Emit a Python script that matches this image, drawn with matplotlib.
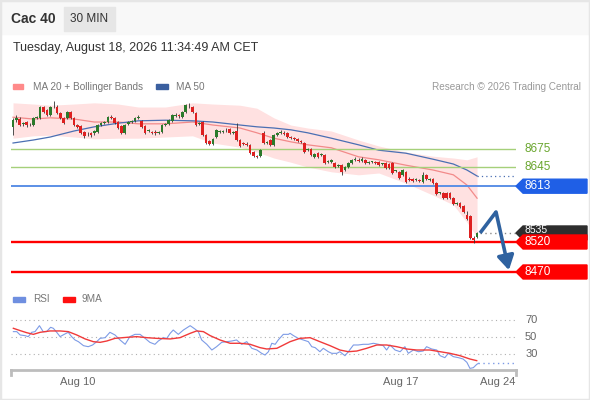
import matplotlib.pyplot as plt
from matplotlib.patches import Rectangle, Polygon
import numpy as np

plt.rcParams['font.family'] = ['Liberation Sans', 'DejaVu Sans']

# ---- price data (30 min candles) ----
opens = [8712, 8723, 8725, 8716, 8720, 8716, 8715, 8727, 8727, 8745, 8740, 8732, 8746, 8745, 8735, 8727,
         8727, 8737, 8727, 8715, 8713, 8703, 8701, 8702, 8702, 8703, 8715, 8718, 8720, 8728, 8727, 8720,
         8713, 8702, 8717, 8720, 8722, 8727, 8722, 8713, 8705, 8703, 8704, 8702, 8703, 8715, 8717, 8722,
         8730, 8732, 8728, 8737, 8747, 8745, 8735, 8717, 8720, 8698, 8688, 8683, 8695, 8703, 8703, 8706,
         8708, 8702, 8705, 8690, 8685, 8683, 8682, 8670, 8663, 8663, 8702, 8685, 8690, 8682, 8698, 8702,
         8702, 8702, 8695, 8693, 8692, 8688, 8685, 8673, 8675, 8662, 8668, 8665, 8665, 8653, 8653, 8652,
         8647, 8648, 8640, 8645, 8652, 8657, 8657, 8655, 8657, 8652, 8653, 8653, 8653, 8650, 8652, 8650,
         8652, 8638, 8637, 8632, 8637, 8625, 8625, 8623, 8623, 8620, 8632, 8623, 8625, 8618, 8602, 8602,
         8602, 8602, 8593, 8583, 8585, 8580, 8565, 8563, 8527, 8528]
highs = [8727, 8732, 8728, 8720, 8722, 8719, 8729, 8730, 8747, 8747, 8742, 8747, 8755, 8748, 8737, 8729,
         8739, 8739, 8729, 8717, 8715, 8705, 8704, 8704, 8707, 8717, 8720, 8721, 8730, 8731, 8729, 8722,
         8715, 8717, 8722, 8724, 8729, 8731, 8724, 8715, 8709, 8705, 8706, 8705, 8717, 8719, 8725, 8734,
         8735, 8734, 8739, 8750, 8752, 8747, 8737, 8720, 8722, 8700, 8690, 8694, 8709, 8706, 8706, 8710,
         8710, 8705, 8718, 8692, 8687, 8686, 8684, 8672, 8665, 8675, 8705, 8688, 8692, 8700, 8704, 8706,
         8705, 8704, 8697, 8695, 8694, 8690, 8687, 8677, 8677, 8669, 8670, 8669, 8667, 8656, 8659, 8654,
         8650, 8650, 8647, 8654, 8659, 8661, 8660, 8662, 8659, 8655, 8655, 8655, 8655, 8652, 8654, 8652,
         8654, 8640, 8639, 8642, 8639, 8628, 8627, 8626, 8625, 8637, 8634, 8626, 8627, 8620, 8604, 8604,
         8604, 8604, 8595, 8586, 8587, 8582, 8572, 8565, 8530, 8537]
lows = [8698, 8720, 8713, 8713, 8712, 8713, 8713, 8725, 8725, 8735, 8730, 8730, 8743, 8733, 8725, 8716,
        8725, 8725, 8713, 8710, 8700, 8693, 8697, 8695, 8698, 8701, 8713, 8716, 8718, 8725, 8716, 8708,
        8700, 8700, 8715, 8718, 8720, 8725, 8710, 8700, 8703, 8700, 8699, 8700, 8701, 8713, 8715, 8720,
        8728, 8727, 8726, 8735, 8744, 8735, 8713, 8715, 8696, 8683, 8681, 8681, 8693, 8701, 8701, 8704,
        8700, 8700, 8688, 8678, 8681, 8680, 8666, 8661, 8660, 8661, 8683, 8683, 8680, 8680, 8696, 8700,
        8698, 8693, 8691, 8690, 8686, 8685, 8668, 8671, 8663, 8660, 8660, 8663, 8650, 8651, 8651, 8643,
        8645, 8632, 8638, 8643, 8650, 8655, 8653, 8653, 8650, 8650, 8651, 8650, 8646, 8648, 8641, 8641,
        8633, 8636, 8625, 8630, 8618, 8622, 8620, 8621, 8620, 8618, 8623, 8621, 8616, 8598, 8600, 8591,
        8591, 8591, 8581, 8581, 8576, 8568, 8556, 8525, 8518, 8526]
closes = [8723, 8727, 8715, 8718, 8715, 8717, 8727, 8728, 8745, 8737, 8732, 8745, 8747, 8735, 8727, 8718,
          8737, 8727, 8715, 8712, 8702, 8697, 8702, 8698, 8705, 8715, 8718, 8719, 8728, 8727, 8718, 8710,
          8702, 8715, 8720, 8722, 8727, 8728, 8712, 8702, 8707, 8702, 8701, 8703, 8715, 8717, 8723, 8732,
          8732, 8730, 8737, 8748, 8746, 8737, 8715, 8718, 8698, 8685, 8683, 8692, 8707, 8703, 8704, 8707,
          8702, 8703, 8690, 8680, 8683, 8682, 8668, 8663, 8662, 8673, 8685, 8685, 8682, 8698, 8702, 8702,
          8700, 8695, 8693, 8692, 8688, 8687, 8670, 8675, 8665, 8667, 8662, 8667, 8652, 8653, 8657, 8645,
          8648, 8637, 8645, 8652, 8657, 8657, 8655, 8658, 8652, 8653, 8653, 8652, 8648, 8650, 8643, 8643,
          8635, 8638, 8627, 8640, 8620, 8623, 8622, 8623, 8622, 8632, 8625, 8623, 8618, 8600, 8602, 8593,
          8593, 8593, 8583, 8583, 8578, 8570, 8558, 8527, 8523, 8535]

# moving averages and bands, read at a few bar positions
line_x = [0, 6, 11, 18, 24, 31, 37, 45, 53, 59, 67, 72, 77, 82, 87, 94, 102, 108, 116, 124, 130, 134, 137]
ma20 = [8728, 8725, 8727, 8725, 8720, 8720, 8717, 8717, 8720, 8715, 8710, 8702, 8693, 8687, 8682, 8677,
        8662, 8657, 8648, 8640, 8632, 8615, 8593]
bb_upper = [8752, 8750, 8748, 8750, 8752, 8750, 8745, 8745, 8752, 8750, 8748, 8743, 8727, 8715, 8710, 8705,
            8690, 8680, 8670, 8663, 8660, 8657, 8662]
bb_lower = [8693, 8697, 8698, 8695, 8692, 8693, 8693, 8695, 8697, 8685, 8678, 8670, 8660, 8653, 8645, 8637,
            8632, 8635, 8618, 8598, 8582, 8553, 8528]
ma50 = [8685, 8690, 8695, 8705, 8712, 8718, 8722, 8723, 8722, 8720, 8715, 8712, 8710, 8707, 8702, 8693,
        8682, 8673, 8668, 8658, 8650, 8640, 8630]

resistances = [8675, 8645]
pivot = 8613
supports = [8520, 8470]
last_price = 8535

forecast_x = [137.9, 142.6, 146.4]
forecast_y = [8535, 8570, 8473]

# ---- RSI panel ----
rsi_x = [0.1, 1.1, 2.1, 3.5, 4.5, 5.5, 6.5, 7.8, 8.9, 9.9, 11.1, 11.9, 12.9, 13.9, 15.1, 16.3, 17.3, 18.3,
         19.3, 20.8, 22.2, 23.5, 24.7, 25.7, 27.2, 28.6, 30.1, 31.6, 33.1, 34.5, 36, 37.5, 39, 40.4, 41.9,
         42.9, 44.4, 45.4, 46.4, 47.3, 48.8, 50.3, 52.3, 53.7, 54.7, 55.7, 57.2, 58.7, 60.1, 61.6, 63.1,
         64.6, 66, 67.5, 69, 70.5, 72, 73.4, 74.4, 75.4, 76.4, 77.4, 78.3, 79.8, 81.3,
         81.8, 82.8, 84.2, 85.7, 87.2, 88.2, 89.2, 90.6, 91.6, 93.1, 94.1, 95.6, 96.5, 98, 99, 100.5,
         101.9, 103.4, 104.9, 106.4, 107.9, 109.3, 110.3, 111.3, 112.8, 114.3, 115.7, 116.7, 118.2, 119.7,
         121.1, 122.1, 123.6, 125.1, 126.1, 127.5, 128.5, 130, 131.5, 132.9, 134, 134.9, 135.9, 136.9, 137.4]
rsi = [56.3, 56.3, 52.4, 51.6, 50.4, 55.5, 56.3, 63.3, 56.3, 56.3, 61.4, 60.2, 55.5, 50.4, 53.1, 55.5,
       50.4, 46.5, 44.5, 39.8, 38.6, 40.6, 44.5, 48.4, 49.2, 55.5, 52.4, 46.5, 41.4, 50.4, 53.1, 53.1,
       48.4, 43.7, 41.4, 45.3, 49.2, 48.4, 54.3, 58.2, 53.1, 58.2, 63.3, 59.4, 56.3, 46.5, 41.4, 34.7,
       38.6, 43.7, 44.5, 45.3, 46.5, 41.4, 44.5, 36.7, 34.7, 30.8, 28.8, 32.7, 42.6, 41.4, 46.5, 53.1, 53.1,
       54.3, 51.6, 48.4, 46.5, 44.5, 38.6, 37.5, 32.7, 36.7, 32.7, 30.8, 30.8, 32.7, 28.0, 32.7, 40.6,
       40.6, 41.4, 41.4, 42.6, 41.4, 39.8, 34.7, 40.6, 34.7, 32.7, 38.6, 30.8, 34.7, 32.7, 33.5, 38.6,
       35.9, 34.7, 28.0, 25.7, 30.8, 26.9, 25.7, 24.1, 20.2, 13.1, 13.9, 17.8, 19.0]
ma9_x = [0.1, 2.1, 4, 6, 8, 10.9, 13.9, 16.3, 18.8, 21.3, 23.7, 25.7, 27.7, 30.1, 33.6, 36.5, 39.5, 42.4,
         46.4, 49.3, 52.3, 54.2, 56.2, 58.2, 61.1, 64.1, 67, 70, 72.9, 74.9, 77.9,
         81.8, 84.7, 87.7, 90.6, 93.6, 96.5, 99, 101.5, 104.4, 107.4, 110.3, 113.3, 116.2, 119.2, 123.1,
         126.1, 129, 132, 134.9, 136.9]
rsi_ma9 = [60.2, 57.5, 55.1, 53.1, 55.5, 57.1, 57.1, 56.3, 52.4, 47.7, 44.5, 43.7, 45.3, 48.4, 49.6, 50.4,
           49.2, 48.4, 47.7, 49.2, 54.3, 57.1, 56.3, 51.6, 46.5, 42.6, 42.6, 41.4, 37.5, 35.9, 36.7,
           44.5, 48.4, 49.2, 44.5, 39.8, 34.7, 32.7, 33.5, 36.7, 40.6, 40.6, 38.6, 35.9, 34.7, 34.7, 32.7,
           30.8, 28.0, 24.1, 22.2]
rsi_levels = [70, 50, 30]

date_ticks = [19.2, 114.6, 143.2]
date_labels = ['Aug 10', 'Aug 17', 'Aug 24']

W, H = 590, 400


def fx(p):
    return p / W


def fy(p):
    return 1 - p / H


fig = plt.figure(figsize=(W / 100, H / 100), dpi=100)
fig.patches.append(Rectangle((0, fy(34)), 1, 34 / H, transform=fig.transFigure,
                             color='#f8f8f8', zorder=0))
fig.patches.append(Rectangle((fx(64), fy(31)), 51 / W, 24 / H, transform=fig.transFigure,
                             color='#e6e6e6', zorder=1))
fig.patches.append(Rectangle((0, 0), 1, 1, transform=fig.transFigure, fill=False,
                             edgecolor='#e6e6e6', lw=2.5, zorder=2))

fig.text(fx(11), fy(19), 'Cac 40', fontsize=10, fontweight='bold', color='#333333', va='center')
fig.text(fx(89.5), fy(19), '30 MIN', fontsize=8.5, color='#333333', va='center', ha='center')
fig.text(fx(13), fy(48), 'Tuesday, August 18, 2026 11:34:49 AM CET', fontsize=9, color='#333333',
         va='center')

# legends
fig.patches.append(Rectangle((fx(13), fy(89)), 10 / W, 5 / H, transform=fig.transFigure, color='#ff8a8a'))
fig.text(fx(33), fy(86.5), 'MA 20 + Bollinger Bands', fontsize=7.2, color='#777777', va='center')
fig.patches.append(Rectangle((fx(156), fy(89)), 12 / W, 5 / H, transform=fig.transFigure, color='#3a5f9f'))
fig.text(fx(176), fy(86.5), 'MA 50', fontsize=7.2, color='#777777', va='center')
fig.text(fx(581), fy(86.5), 'Research \u00a9 2026 Trading Central', fontsize=7.2, color='#999999',
         va='center', ha='right')

fig.patches.append(Rectangle((fx(13), fy(301.5)), 12 / W, 5 / H, transform=fig.transFigure, color='#6f8fe0'))
fig.text(fx(33), fy(299), 'RSI', fontsize=7.2, color='#777777', va='center')
fig.patches.append(Rectangle((fx(63), fy(301.5)), 12 / W, 5 / H, transform=fig.transFigure, color='#ff1010'))
fig.text(fx(82), fy(299), '9MA', fontsize=7.2, color='#777777', va='center')

# ---- main price panel ----
ax = fig.add_axes([fx(11), fy(285), 505 / W, 188 / H])
ax.set_xlim(-0.6, 148.5)
ax.set_ylim(8448.3, 8761.7)
ax.axis('off')

ax.fill_between(line_x, bb_lower, bb_upper, color='#ffe1e1', lw=0, zorder=1)
ax.plot(line_x, ma20, color='#f28a8a', lw=0.9, zorder=2)
ax.plot(line_x, ma50, color='#4a6fb3', lw=0.9, zorder=2)
ax.plot([line_x[-1], 148.5], [ma50[-1], ma50[-1]], color='#4a6fb3', lw=0.9, ls=(0, (1, 2.5)), zorder=2)

idx = np.arange(len(closes))
o = np.array(opens)
c = np.array(closes)
up = c >= o
body_lo = np.minimum(o, c)
body_h = np.maximum(np.abs(c - o), 1.2)
ax.vlines(idx, lows, highs, color='#333333', lw=0.6, zorder=3)
ax.bar(idx, body_h, bottom=body_lo, width=0.8, color=np.where(up, '#2b7a2b', '#de2020'),
       lw=0, zorder=4)

# levels
for lv in resistances:
    ax.axhline(lv, color='#a5d07a', lw=1, zorder=2)
ax.axhline(pivot, color='#5b8fe6', lw=1.4, zorder=2)
for lv in supports:
    ax.axhline(lv, color='#ff0000', lw=1.7, zorder=2)
ax.plot([idx[-1] + 0.8, 148.5], [last_price, last_price], color='#888888', lw=1, ls=(0, (1, 2.5)), zorder=2)

trans = ax.get_yaxis_transform()
hh = 7 / 0.6
xr = (587 - 11) / 505
tx = 1.017


def tag(y, color):
    pts = [(1.0, y), (1.014, y + hh), (xr, y + hh), (xr, y - hh), (1.014, y - hh)]
    ax.add_patch(Polygon(pts, closed=True, transform=trans, color=color, clip_on=False, zorder=5))


for lv in resistances:
    ax.text(tx, lv, str(lv), transform=trans, color='#6aa62e', fontsize=8.5, va='center')
tag(pivot, '#1f5fe6')
ax.text(tx, pivot, str(pivot), transform=trans, color='white', fontsize=8.5, va='center', zorder=6)
tag(last_price, '#2e2e2e')
# last price tag sits partly under the 8520 tag: keep its text above that tag
ax.text(tx, supports[0] + hh + 0.5, str(last_price), transform=trans, color='white', fontsize=7.5,
        va='bottom', zorder=6)
for lv in supports:
    tag(lv, '#ff0000')
    ax.text(tx, lv, str(lv), transform=trans, color='white', fontsize=8.5, va='center', zorder=6)

# forecast arrow
ax.plot(forecast_x[:2], forecast_y[:2], color='#2f62a0', lw=2.6, solid_capstyle='butt', zorder=6)
ax.annotate('', xy=(forecast_x[2], forecast_y[2]), xytext=(forecast_x[1], forecast_y[1]),
            arrowprops=dict(arrowstyle='-|>,head_width=0.5,head_length=0.85', color='#2f62a0',
                            lw=2.6, shrinkA=0, shrinkB=0), zorder=6)

# ---- RSI panel ----
rax = fig.add_axes([fx(11), fy(370), 505 / W, 65 / H])
rax.set_xlim(-0.6, 148.5)
rax.set_ylim(11.2, 87.6)
for s in ['top', 'right', 'left']:
    rax.spines[s].set_visible(False)
rax.spines['bottom'].set_color('#bdbdbd')
rax.spines['bottom'].set_linewidth(2)
rax.set_yticks([])
rax.set_xticks(date_ticks, date_labels)
rax.tick_params(axis='x', length=0, pad=5, labelsize=8, labelcolor='#666666')
for xe in [0, 1]:
    rax.plot([xe, xe], [0, -5 / 65], transform=rax.transAxes, color='#bdbdbd', lw=2, clip_on=False)

for lv in rsi_levels:
    rax.axhline(lv, color='#b0b0b0', lw=0.8, ls=(0, (1, 3)))
    rax.text(1.018, lv, str(lv), transform=rax.get_yaxis_transform(), color='#666666', fontsize=8,
             va='center')

rax.plot(rsi_x, rsi, color='#7d9be6', lw=0.8)
rax.plot([rsi_x[-1], 148.5], [rsi[-1], rsi[-1]], color='#7d9be6', lw=1, ls=(0, (1, 2.5)))
rax.plot(ma9_x, rsi_ma9, color='#f03a3a', lw=1)

fig.savefig('out.png', dpi=100)
